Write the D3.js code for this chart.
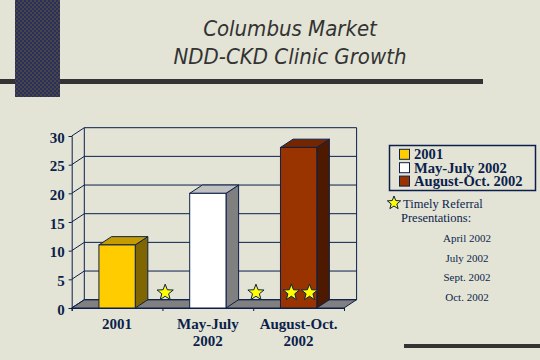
<!DOCTYPE html>
<html><head><meta charset="utf-8">
<script src="https://cdn.jsdelivr.net/npm/d3@7"></script>
<style>html,body{margin:0;padding:0;background:#e3e4d6;}svg{display:block;}</style>
</head><body>
<script>
// ---- data ----
const categories = ["2001", "May-July 2002", "August-Oct. 2002"];
const values = [11, 20, 28];
const seriesNames = ["2001", "May-July 2002", "August-Oct. 2002"];
const yTicks = [0, 5, 10, 15, 20, 25, 30];
// star annotations: position along category axis (in category index units) and height (value units)
const starPos = [1.03, 2.03, 2.42, 2.62];
const starVal = [2.85, 2.85, 2.85, 2.85];
const noteTitle = ["Timely Referral", "Presentations:"];
const noteDates = ["April 2002", "July 2002", "Sept. 2002", "Oct. 2002"];
const titleLines = ["Columbus Market", "NDD-CKD Clinic Growth"];

// ---- styles ----
const W = 540, H = 360;
const navy = "#0c1f4c";
const faceColors = ["#ffcc00", "#ffffff", "#993300"];
const topColors = ["#c49c00", "#c0c0c0", "#732600"];
const sideColors = ["#806600", "#808080", "#4d1a00"];
const DX = 12.6, DY = -8.3;

const svg = d3.select("body").append("svg").attr("width", W).attr("height", H);
svg.append("rect").attr("width", W).attr("height", H).attr("fill", "#e3e4d6");

// pattern for decorative block
const defs = svg.append("defs");
const pat = defs.append("pattern").attr("id", "chk").attr("patternUnits", "userSpaceOnUse")
  .attr("width", 4).attr("height", 4);
pat.append("rect").attr("width", 4).attr("height", 4).attr("fill", "#45454a");
pat.append("rect").attr("x", 0).attr("y", 0).attr("width", 2).attr("height", 2).attr("fill", "#2a2f5c");
pat.append("rect").attr("x", 2).attr("y", 2).attr("width", 2).attr("height", 2).attr("fill", "#2a2f5c");

svg.append("rect").attr("x", 0).attr("y", 79).attr("width", 483).attr("height", 5).attr("fill", "#333333");
svg.append("rect").attr("x", 15).attr("y", 0).attr("width", 45).attr("height", 97).attr("fill", "url(#chk)");
svg.append("rect").attr("x", 404).attr("y", 344).attr("width", 136).attr("height", 4).attr("fill", "#333333");

// title
svg.selectAll("text.title").data(titleLines).join("text").attr("class", "title")
  .attr("x", 290).attr("y", (d, i) => 36 + i * 27.5)
  .attr("text-anchor", "middle")
  .attr("font-family", "DejaVu Sans Condensed, DejaVu Sans, sans-serif")
  .attr("font-stretch", "condensed")
  .attr("font-style", "italic").attr("font-size", 22).attr("fill", "#333333")
  .text(d => d);

// ---- scales ----
const x = d3.scaleBand().domain(categories).range([71.7, 344]).paddingInner(0.6).paddingOuter(0.3);
const xi = d3.scaleLinear().domain([0, categories.length]).range([71.7, 344]);
const y = d3.scaleLinear().domain([0, 30]).range([308, 136]);
const x0 = 71.7, x1 = 344, y0 = y(0);

const g = svg.append("g");
// floor
g.append("path").attr("d", `M${x0},${y0}L${x1},${y0}L${x1 + DX},${y0 + DY}L${x0 + DX},${y0 + DY}Z`)
  .attr("fill", "#808080").attr("stroke", navy).attr("stroke-width", 1);
// back wall gridlines
g.selectAll("line.grid").data(yTicks).join("line").attr("class", "grid")
  .attr("x1", x0 + DX).attr("x2", x1 + DX).attr("y1", d => y(d) + DY).attr("y2", d => y(d) + DY)
  .attr("stroke", navy).attr("stroke-width", 1);
// side-wall diagonals
g.selectAll("line.diag").data(yTicks).join("line").attr("class", "diag")
  .attr("x1", x0).attr("x2", x0 + DX).attr("y1", d => y(d)).attr("y2", d => y(d) + DY)
  .attr("stroke", navy).attr("stroke-width", 1);
// back wall verticals
g.append("line").attr("x1", x0 + DX).attr("x2", x0 + DX).attr("y1", y(30) + DY).attr("y2", y0 + DY).attr("stroke", navy);
g.append("line").attr("x1", x1 + DX).attr("x2", x1 + DX).attr("y1", y(30) + DY).attr("y2", y0 + DY).attr("stroke", navy);

// y axis
const yAxis = d3.axisLeft(y).tickValues(yTicks).tickSize(3).tickPadding(4);
const ya = svg.append("g").attr("transform", `translate(${x0},0)`).call(yAxis);
ya.select(".domain").attr("stroke", navy);
ya.selectAll(".tick line").attr("stroke", navy);
ya.selectAll(".tick text").attr("font-family", "Liberation Serif, Times New Roman, serif")
  .attr("font-weight", "bold").attr("font-size", 15).attr("fill", navy).attr("dy", "0.4em");

// x axis
const xAxis = d3.axisBottom(xi).tickValues(d3.range(categories.length + 1)).tickSize(3).tickFormat("");
const xa = svg.append("g").attr("transform", `translate(0,${y0})`).call(xAxis);
xa.select(".domain").attr("stroke", navy);
xa.selectAll(".tick line").attr("stroke", navy);

// category labels
const lab = svg.append("g").selectAll("text").data(categories).join("text")
  .attr("text-anchor", "middle")
  .attr("font-family", "Liberation Serif, Times New Roman, serif")
  .attr("font-weight", "bold").attr("font-size", 15).attr("fill", navy);
lab.each(function (d) {
  const cx = x(d) + x.bandwidth() / 2;
  const k = d.lastIndexOf(" ");
  const lines = (d.indexOf(" ") >= 0) ? [d.slice(0, k), d.slice(k + 1)] : [d];
  d3.select(this).selectAll("tspan").data(lines).join("tspan")
    .attr("x", cx).attr("y", (t, i) => 329 + i * 17).text(t => t);
});

// bars
const bars = svg.append("g").selectAll("g").data(values).join("g");
bars.each(function (v, i) {
  const gb = d3.select(this);
  const bx0 = x(categories[i]), bx1 = bx0 + x.bandwidth(), by = y(v);
  gb.append("path").attr("d", `M${bx1},${by}L${bx1 + DX},${by + DY}L${bx1 + DX},${y0 + DY}L${bx1},${y0}Z`)
    .attr("fill", sideColors[i]).attr("stroke", navy).attr("stroke-width", 1).attr("stroke-linejoin", "round");
  gb.append("path").attr("d", `M${bx0},${by}L${bx0 + DX},${by + DY}L${bx1 + DX},${by + DY}L${bx1},${by}Z`)
    .attr("fill", topColors[i]).attr("stroke", navy).attr("stroke-width", 1).attr("stroke-linejoin", "round");
  gb.append("rect").attr("x", bx0).attr("y", by).attr("width", x.bandwidth()).attr("height", y0 - by)
    .attr("fill", faceColors[i]).attr("stroke", navy).attr("stroke-width", 1);
});

function starPath(r, ri) {
  const pts = [];
  for (let k = 0; k < 10; k++) {
    const a = -Math.PI / 2 + k * Math.PI / 5;
    const rr = k % 2 === 0 ? r : ri;
    pts.push([rr * Math.cos(a), rr * Math.sin(a)]);
  }
  return "M" + pts.map(p => p[0].toFixed(2) + "," + p[1].toFixed(2)).join("L") + "Z";
}

// stars
svg.append("g").selectAll("path").data(starPos).join("path")
  .attr("transform", (d, i) => `translate(${xi(d)},${y(starVal[i]) + 1})`)
  .attr("d", starPath(8.5, 3.6)).attr("fill", "#ffff00").attr("stroke", navy).attr("stroke-width", 1);

// legend
const lg = svg.append("g");
lg.append("rect").attr("x", 389.5).attr("y", 145.5).attr("width", 146).attr("height", 45)
  .attr("fill", "none").attr("stroke", navy).attr("stroke-width", 1.5);
const li = lg.selectAll("g").data(seriesNames).join("g")
  .attr("transform", (d, i) => `translate(399.5,${154.3 + i * 13.4})`);
li.append("rect").attr("x", 0).attr("y", -5).attr("width", 10).attr("height", 10)
  .attr("fill", (d, i) => faceColors[i]).attr("stroke", navy).attr("stroke-width", 1);
li.append("text").attr("x", 14.5).attr("y", 4.8)
  .attr("font-family", "Liberation Serif, Times New Roman, serif").attr("font-weight", "bold")
  .attr("font-size", 14.6).attr("fill", navy).text(d => d);

// note
svg.append("path").attr("transform", "translate(394,203)").attr("d", starPath(7, 3))
  .attr("fill", "#ffff00").attr("stroke", navy).attr("stroke-width", 1);
svg.append("g").selectAll("text").data(noteTitle).join("text")
  .attr("x", (d, i) => i === 0 ? 403 : 401).attr("y", (d, i) => 208 + i * 13.5)
  .attr("font-family", "Liberation Serif, Times New Roman, serif").attr("font-size", 12.5)
  .attr("fill", navy).text(d => d);
svg.append("g").selectAll("text").data(noteDates).join("text")
  .attr("x", 467).attr("y", (d, i) => 242 + i * 19.7).attr("text-anchor", "middle")
  .attr("font-family", "Liberation Serif, Times New Roman, serif").attr("font-size", 11)
  .attr("fill", navy).text(d => d);
</script>
</body></html>
